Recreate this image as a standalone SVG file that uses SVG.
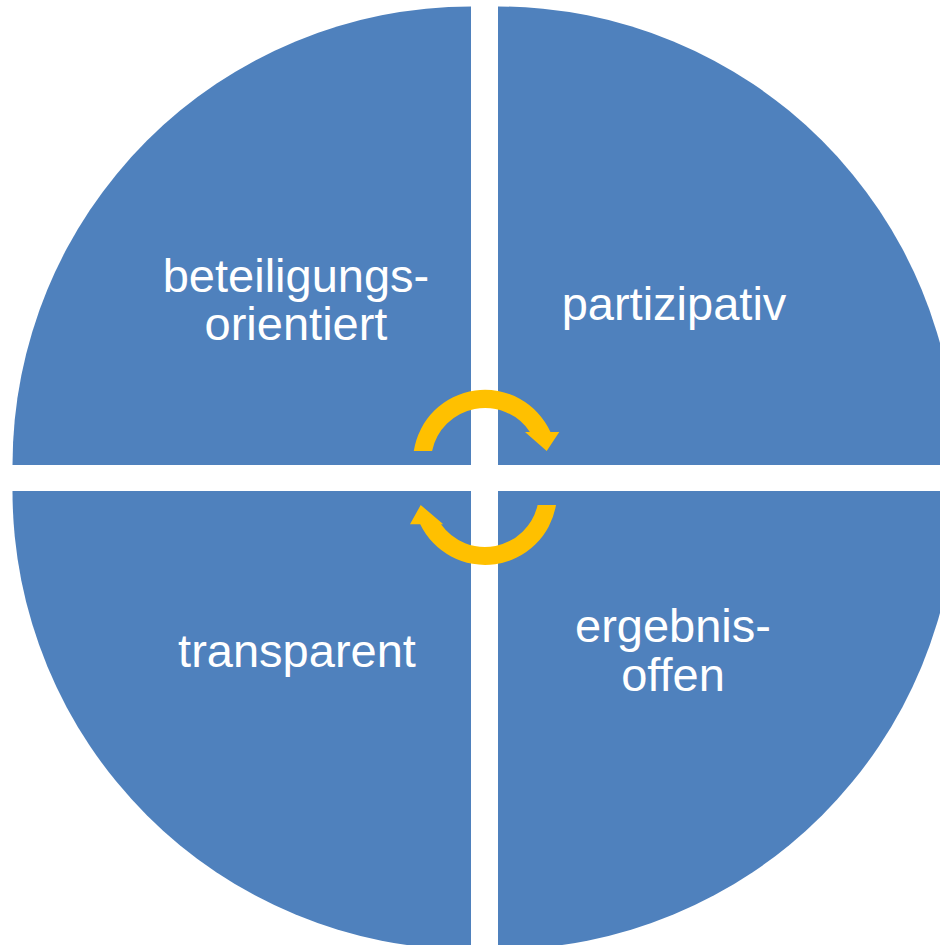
<svg xmlns="http://www.w3.org/2000/svg" width="940" height="945" viewBox="0 0 940 945">
<style>
.q{fill:#4F81BD}
.t{fill:#FFFFFF;font-family:"Liberation Sans",Arial,sans-serif;font-size:47px;text-anchor:middle}
.a{fill:#FFC000}
</style>
<rect width="940" height="945" fill="#FFFFFF"/>
<g id="node-beteiligungsorientiert">
<path class="q" d="M471,465 L12.5,465 A458.5,458.5 0 0 1 471,6.5 Z"/>
<text class="t" x="296" y="292">beteiligungs-</text>
<text class="t" x="296" y="340">orientiert</text>
</g>
<g id="node-partizipativ">
<path class="q" d="M498,465 L498,6.5 A458.5,458.5 0 0 1 956.5,465 Z"/>
<text class="t" x="674" y="320">partizipativ</text>
</g>
<g id="node-transparent">
<path class="q" d="M471,491 L471,949.5 A458.5,458.5 0 0 1 12.5,491 Z"/>
<text class="t" x="297" y="667">transparent</text>
</g>
<g id="node-ergebnisoffen">
<path class="q" d="M498,491 L956.5,491 A458.5,458.5 0 0 1 498,949.5 Z"/>
<text class="t" x="673" y="642">ergebnis-</text>
<text class="t" x="673" y="691">offen</text>
</g>
<g id="connectors">
<path class="a" d="M413.8,451 A72,72 0 0 1 550.5,432 L559.3,432 L546.7,451 L525,432 L529.9,432 A54,54 0 0 0 432.1,451 Z"/>
<path class="a" d="M556,505 A72,72 0 0 1 420.2,524.3 L410,524.3 L420.7,505 L443.3,524.3 L441,524.3 A54,54 0 0 0 537.6,505 Z"/>
</g>
</svg>
